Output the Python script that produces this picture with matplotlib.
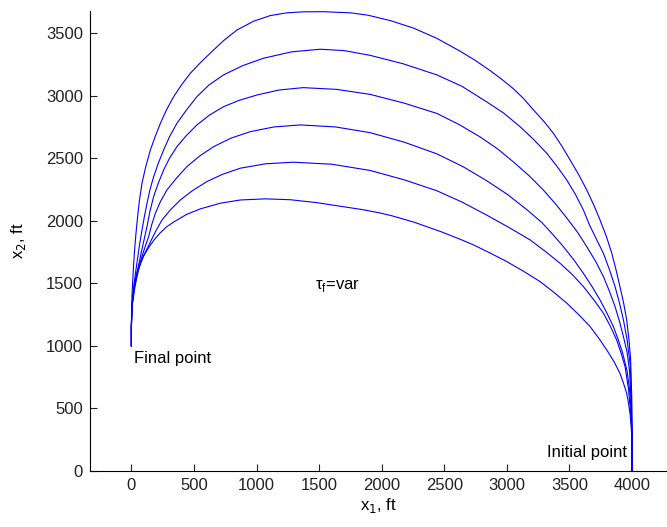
import numpy as np
import matplotlib.pyplot as plt

plt.rcParams['font.family'] = ['Liberation Sans', 'DejaVu Sans']

# trajectories x1(t), x2(t) for several final times, from the initial point (4000, 0) to the final point (0, 1000)
x1_a = [4000, 4000, 3997, 3988, 3975, 3957, 3933, 3903, 3872, 3838, 3795, 3744, 3694, 3638, 3575, 3505, 3440, 3371, 3295, 3212,
        3135, 3052, 2960, 2866, 2750, 2627, 2440, 2254, 2068, 1890, 1749, 1533, 1376, 1243, 1110, 977, 844, 737, 657, 560,
        471, 400, 338, 280, 232, 190, 152, 115, 85, 65, 50, 37, 26, 17, 10, 5, 2, 0, 0]
x2_a = [0, 300, 600, 900, 1050, 1207, 1340, 1474, 1607, 1740, 1873, 2006, 2126, 2246, 2366, 2486, 2595, 2700, 2795, 2886,
        2975, 3055, 3130, 3200, 3280, 3355, 3458, 3540, 3600, 3643, 3662, 3671, 3670, 3662, 3640, 3595, 3525, 3440, 3365, 3272,
        3179, 3085, 2992, 2885, 2779, 2672, 2566, 2433, 2300, 2166, 2033, 1900, 1767, 1633, 1500, 1400, 1300, 1150, 1000]

x1_b = [4000, 3999, 3995, 3985, 3960, 3931, 3900, 3864, 3820, 3771, 3718, 3660, 3611, 3550, 3478, 3400, 3318, 3215, 3105, 2975,
        2839, 2640, 2440, 2170, 1908, 1700, 1509, 1280, 1056, 890, 737, 620, 524, 440, 364, 305, 258, 215, 178, 148,
        125, 104, 85, 66, 50, 34, 20, 10, 4, 0, 0]
x2_b = [0, 300, 600, 850, 1050, 1207, 1340, 1474, 1607, 1740, 1847, 1966, 2086, 2206, 2326, 2435, 2540, 2648, 2752, 2860,
        2950, 3075, 3166, 3255, 3322, 3360, 3371, 3350, 3299, 3240, 3166, 3085, 2992, 2885, 2779, 2672, 2566, 2459, 2352, 2246,
        2140, 2033, 1926, 1813, 1700, 1590, 1480, 1380, 1300, 1150, 1000]

x1_c = [4000, 3999, 3993, 3980, 3960, 3931, 3900, 3864, 3820, 3771, 3710, 3638, 3565, 3480, 3390, 3291, 3175, 3052, 2925, 2786,
        2620, 2440, 2180, 1908, 1640, 1373, 1180, 1003, 860, 737, 625, 524, 440, 364, 305, 258, 215, 178, 148, 125,
        102, 80, 60, 40, 24, 12, 5, 0, 0]
x2_c = [0, 300, 550, 800, 950, 1073, 1194, 1314, 1434, 1554, 1673, 1793, 1907, 2020, 2133, 2246, 2362, 2470, 2575, 2670,
        2768, 2858, 2940, 3010, 3050, 3064, 3045, 3005, 2962, 2912, 2845, 2766, 2682, 2592, 2500, 2406, 2300, 2193, 2073, 1953,
        1850, 1750, 1655, 1560, 1470, 1380, 1320, 1150, 1000]

x1_d = [4000, 3999, 3992, 3980, 3960, 3925, 3890, 3851, 3800, 3744, 3680, 3611, 3535, 3451, 3365, 3280, 3158, 3005, 2839, 2650,
        2440, 2180, 1908, 1630, 1350, 1140, 950, 795, 657, 545, 444, 360, 284, 232, 192, 162, 138, 108, 80, 58,
        40, 26, 15, 6, 0, 0]
x2_d = [0, 300, 500, 650, 800, 941, 1048, 1154, 1260, 1367, 1474, 1580, 1687, 1793, 1893, 1985, 2090, 2210, 2320, 2432,
        2535, 2628, 2704, 2750, 2766, 2750, 2712, 2660, 2592, 2517, 2433, 2340, 2246, 2153, 2060, 1966, 1873, 1786, 1700, 1615,
        1530, 1455, 1380, 1320, 1150, 1000]

x1_e = [4000, 3999, 3990, 3972, 3944, 3913, 3877, 3828, 3771, 3695, 3611, 3525, 3425, 3310, 3185, 3010, 2839, 2640, 2440, 2180,
        1908, 1600, 1293, 1070, 870, 725, 604, 490, 391, 310, 245, 200, 160, 128, 98, 75, 55, 40, 26, 17,
        10, 4, 0, 0]
x2_e = [0, 300, 450, 650, 834, 940, 1047, 1154, 1261, 1367, 1474, 1567, 1660, 1753, 1847, 1950, 2045, 2150, 2240, 2327,
        2402, 2452, 2468, 2455, 2420, 2370, 2313, 2242, 2166, 2085, 2006, 1927, 1847, 1780, 1720, 1660, 1600, 1540, 1480, 1415,
        1350, 1300, 1150, 1000]

x1_f = [4000, 3999, 3993, 3985, 3972, 3957, 3932, 3903, 3855, 3798, 3735, 3665, 3575, 3479, 3375, 3265, 3135, 3000, 2870, 2733,
        2627, 2467, 2254, 2080, 1988, 1840, 1695, 1480, 1270, 1070, 870, 710, 551, 440, 338, 280, 232, 180, 138, 100,
        72, 50, 35, 24, 15, 7, 0, 0]
x2_f = [0, 250, 350, 450, 540, 621, 700, 781, 875, 967, 1060, 1154, 1248, 1341, 1428, 1514, 1595, 1673, 1740, 1807,
        1852, 1915, 1990, 2040, 2062, 2090, 2112, 2145, 2168, 2175, 2166, 2140, 2095, 2050, 1990, 1950, 1905, 1845, 1785, 1722,
        1665, 1605, 1545, 1480, 1420, 1340, 1150, 1000]

x_ticks = [0, 500, 1000, 1500, 2000, 2500, 3000, 3500, 4000]
y_ticks = [0, 500, 1000, 1500, 2000, 2500, 3000, 3500]

fig = plt.figure(figsize=(6.67, 5.27), dpi=100)
ax = fig.add_axes([0.135, 0.1063, 0.865, 0.8727])

for xs, ys in [(x1_a, x2_a), (x1_b, x2_b), (x1_c, x2_c), (x1_d, x2_d), (x1_e, x2_e), (x1_f, x2_f)]:
    ax.plot(xs, ys, color='#0000ff', linewidth=0.8)

ax.set_xlim(-330, 4279)
ax.set_ylim(0, 3676)
ax.set_xticks(x_ticks)
ax.set_yticks(y_ticks)
ax.spines['top'].set_visible(False)
ax.spines['right'].set_visible(False)
ax.tick_params(direction='in', length=5, width=0.8, labelsize=12, colors='#222222', pad=5)

ax.set_xlabel('x$_1$, ft', fontsize=12, labelpad=2)
ax.set_ylabel('x$_2$, ft', fontsize=12, labelpad=13)

ax.text(25, 1000 - 45, 'Final point', fontsize=12, va='top', ha='left')
ax.text(3960, 150, 'Initial point', fontsize=12, va='center', ha='right')
ax.text(1470, 1480, 'τ$_\\mathregular{f}$=var', fontsize=12, va='center', ha='left')

fig.savefig('out.png', dpi=100)
